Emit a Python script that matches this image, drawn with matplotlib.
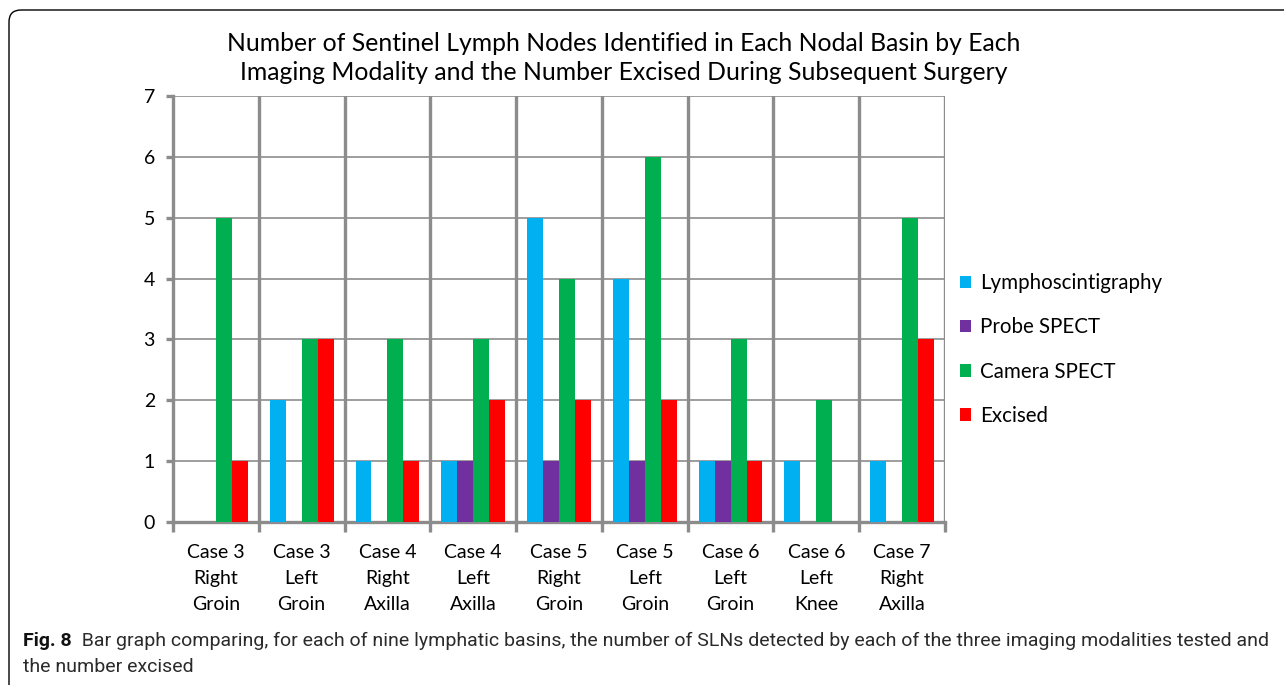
import matplotlib.pyplot as plt
import numpy as np
from matplotlib.patches import FancyBboxPatch
from matplotlib.transforms import IdentityTransform

# Data
basins = ["Case 3\nRight\nGroin", "Case 3\nLeft\nGroin", "Case 4\nRight\nAxilla",
          "Case 4\nLeft\nAxilla", "Case 5\nRight\nGroin", "Case 5\nLeft\nGroin",
          "Case 6\nLeft\nGroin", "Case 6\nLeft\nKnee", "Case 7\nRight\nAxilla"]
lymphoscintigraphy = [0, 2, 1, 1, 5, 4, 1, 1, 1]
probe_spect = [0, 0, 0, 1, 1, 1, 1, 0, 0]
camera_spect = [5, 3, 3, 3, 4, 6, 3, 2, 5]
excised = [1, 3, 1, 2, 2, 2, 1, 0, 3]

series = [("Lymphoscintigraphy", lymphoscintigraphy, "#00B0F0"),
          ("Probe SPECT", probe_spect, "#7030A0"),
          ("Camera SPECT", camera_spect, "#00B050"),
          ("Excised", excised, "#FF0000")]

plt.rcParams['font.family'] = ['Lato', 'DejaVu Sans']

fig = plt.figure(figsize=(12.84, 6.85), dpi=100)
W, H = 1284, 685
ax = fig.add_axes([173 / W, 1 - 522 / H, (945 - 173) / W, (522 - 96) / H])

x = np.arange(len(basins))
bw = 0.186
for i, (name, vals, col) in enumerate(series):
    ax.bar(x + (i - 1.5) * bw, vals, bw, color=col, label=name, zorder=3)

grid_col = "#8c8c8c"
ax.set_xlim(-0.5, len(basins) - 0.5)
ax.set_ylim(0, 7)
ax.set_yticks(range(8))
for y in range(1, 8):
    ax.axhline(y, color=grid_col, lw=1.2, zorder=1)
for b in np.arange(0.5, len(basins) - 0.5 + 0.01, 1):
    ax.axvline(b, color=grid_col, lw=2.4, zorder=1)

for s in ["top", "right"]:
    ax.spines[s].set_visible(False)
ax.spines["left"].set_color(grid_col)
ax.spines["left"].set_linewidth(2.4)
ax.spines["bottom"].set_color(grid_col)
ax.spines["bottom"].set_linewidth(2.4)

ax.set_xticks(np.arange(-0.5, len(basins)), minor=False)
ax.set_xticklabels([])
ax.set_xticks(x, minor=True)
ax.set_xticklabels(basins, minor=True, fontsize=14, linespacing=1.65)
ax.tick_params(axis="x", which="major", length=7, width=2.4, color=grid_col)
ax.tick_params(axis="x", which="minor", length=0, pad=16)
ax.tick_params(axis="y", length=5, width=2.4, color=grid_col, labelsize=14, pad=8)

fig.text(624 / W, 1 - 58 / H,
         "Number of Sentinel Lymph Nodes Identified in Each Nodal Basin by Each\n"
         "Imaging Modality and the Number Excised During Subsequent Surgery",
         ha="center", va="center", fontsize=17.8, linespacing=1.3)

ax.legend(loc="center left", bbox_to_anchor=(0.995, 0.405), frameon=False,
          fontsize=14.8, handlelength=0.55, handleheight=0.55, handletextpad=0.45,
          labelspacing=1.18)

# caption
cap_font = ['Roboto', 'DejaVu Sans']
fig_lbl = fig.text(23 / W, 1 - 641 / H, "Fig. 8", fontsize=14, fontweight="bold",
                   family=cap_font, va="center", color="#111111")
cap1 = fig.text(23 / W, 1 - 641 / H,
                "  Bar graph comparing, for each of nine lymphatic basins, the number of SLNs "
                "detected by each of the three imaging modalities tested and",
                fontsize=14, family=cap_font, va="center", color="#2a2a2a")
fig.canvas.draw()
bb = fig_lbl.get_window_extent()
cap1.set_position((bb.x1 / W, 1 - 641 / H))
fig.text(23 / W, 1 - 667 / H, "the number excised", fontsize=14,
         family=cap_font, va="center", color="#2a2a2a")

border = FancyBboxPatch((9, -60), W + 60, H - 10 + 60,
                        boxstyle="round,pad=0,rounding_size=12",
                        transform=IdentityTransform(), fill=False,
                        edgecolor="black", lw=1.0)
fig.patches.append(border)

fig.savefig("out.png", dpi=100)
